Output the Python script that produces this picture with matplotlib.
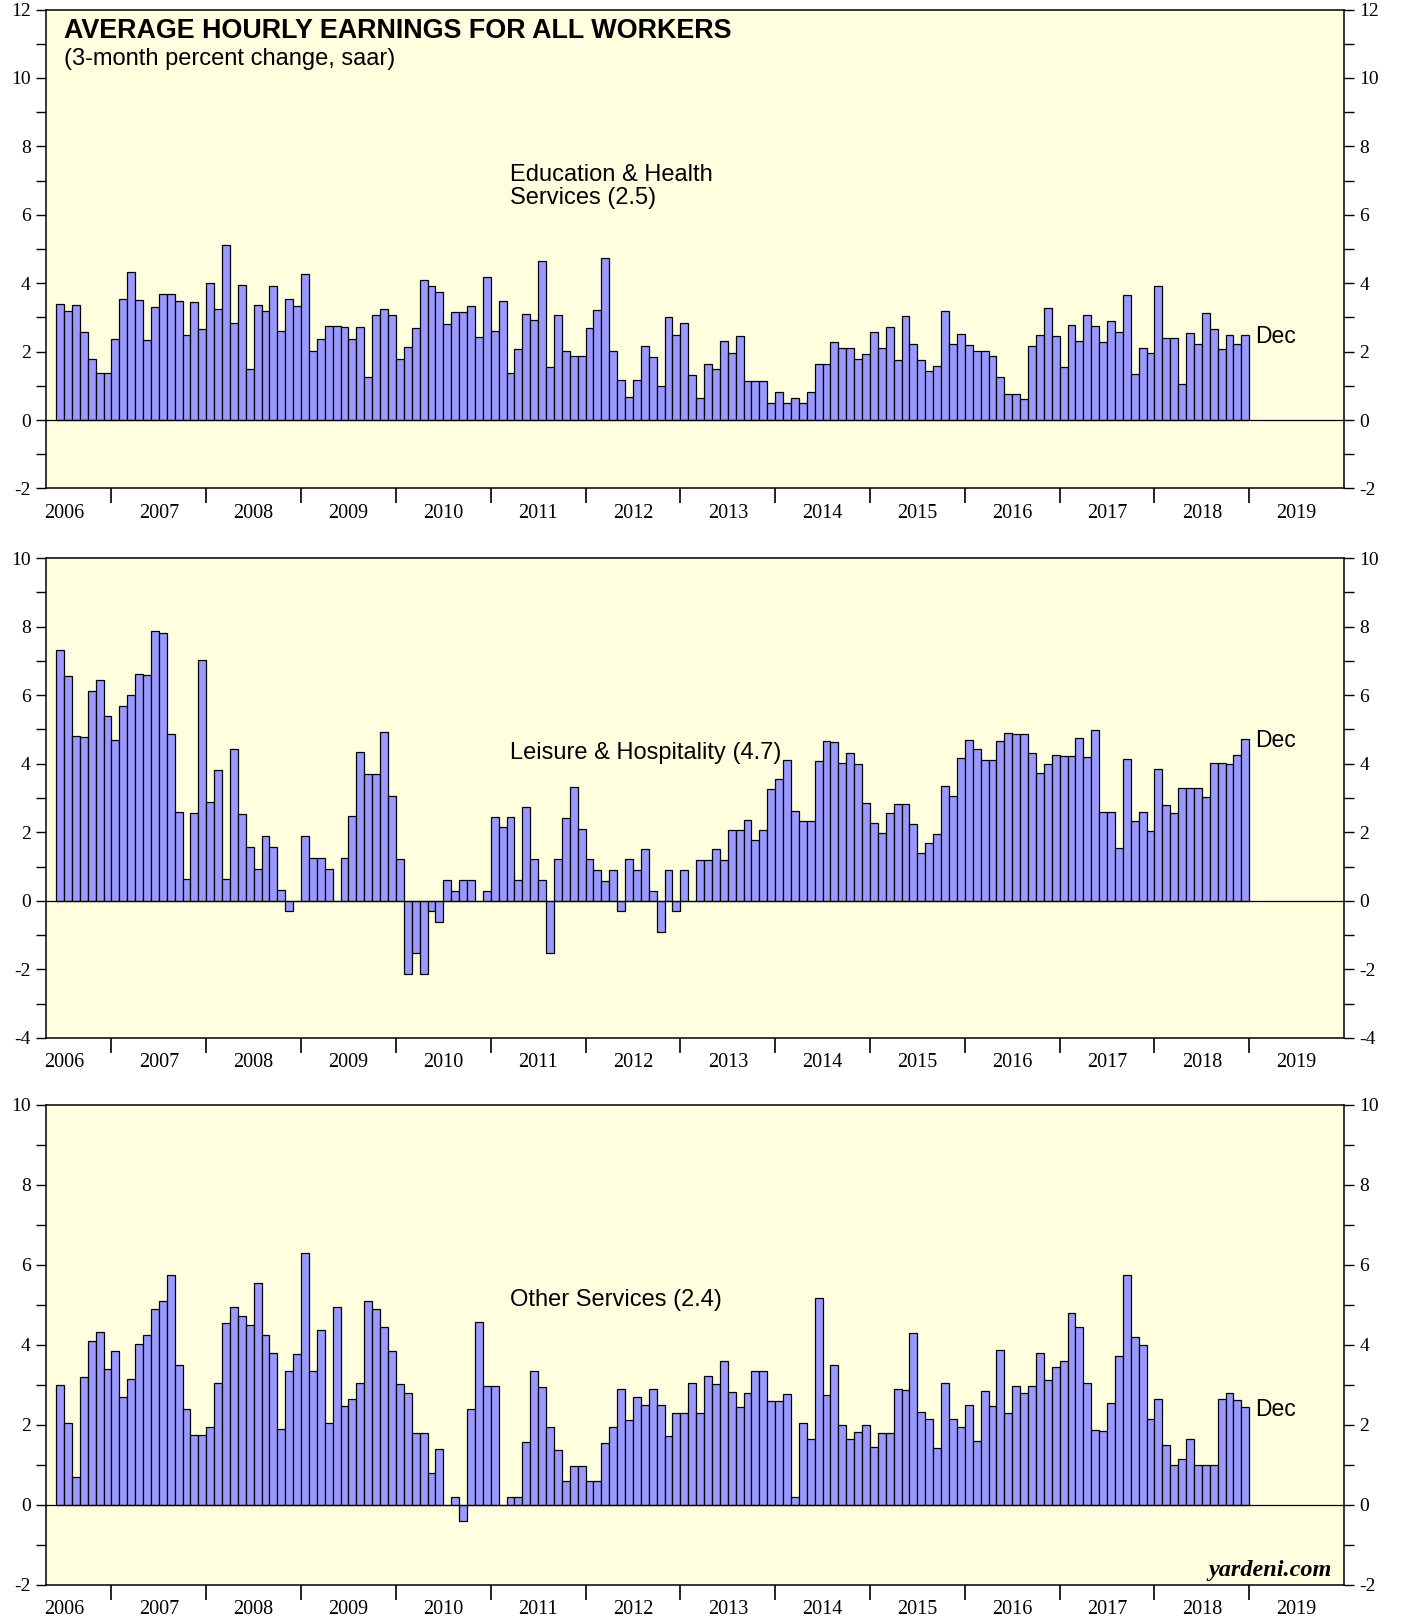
import numpy as np
import pandas as pd
import matplotlib
matplotlib.use("Agg")
import matplotlib.pyplot as plt

plt.rcParams["axes.unicode_minus"] = False

# monthly bars, Jun 2006 .. Dec 2018 (3-month % change, saar)
months = pd.date_range("2006-06-01", "2018-12-01", freq="MS")

edu_health = [
    3.40, 3.19, 3.37, 2.57, 1.77, 1.37, 1.37,                                # 2006 (Jun-Dec)
    2.36, 3.54, 4.32, 3.52, 2.33, 3.30, 3.68, 3.68, 3.47, 2.50, 3.46, 2.67,  # 2007
    4.02, 3.24, 5.13, 2.84, 3.96, 1.50, 3.37, 3.19, 3.91, 2.60, 3.53, 3.32,  # 2008
    4.26, 2.02, 2.38, 2.74, 2.74, 2.73, 2.36, 2.72, 1.27, 3.07, 3.25, 3.06,  # 2009
    1.78, 2.14, 2.68, 4.10, 3.91, 3.73, 2.82, 3.17, 3.17, 3.33, 2.44, 4.19,  # 2010
    2.60, 3.48, 1.37, 2.08, 3.10, 2.93, 4.65, 1.54, 3.07, 2.03, 1.86, 1.86,  # 2011
    2.70, 3.23, 4.73, 2.01, 1.17, 0.66, 1.16, 2.17, 1.83, 1.00, 3.00, 2.50,  # 2012
    2.83, 1.33, 0.65, 1.65, 1.48, 2.31, 1.97, 2.47, 1.14, 1.14, 1.14, 0.49,  # 2013
    0.81, 0.49, 0.65, 0.49, 0.81, 1.63, 1.63, 2.27, 2.11, 2.11, 1.77, 1.94,  # 2014
    2.58, 2.10, 2.73, 1.76, 3.04, 2.23, 1.75, 1.42, 1.59, 3.18, 2.21, 2.52,  # 2015
    2.19, 2.03, 2.03, 1.87, 1.25, 0.77, 0.77, 0.61, 2.17, 2.49, 3.27, 2.47,  # 2016
    1.55, 2.78, 2.31, 3.07, 2.76, 2.29, 2.90, 2.58, 3.65, 1.35, 2.11, 1.96,  # 2017
    3.93, 2.41, 2.39, 1.04, 2.54, 2.23, 3.14, 2.67, 2.08, 2.50, 2.21, 2.50,  # 2018
]

leisure = [
    7.31, 6.57, 4.80, 4.78, 6.13, 6.45, 5.40,
    4.69, 5.68, 6.00, 6.63, 6.59, 7.88, 7.82, 4.86, 2.58, 0.64, 2.57, 7.04,
    2.88, 3.81, 0.63, 4.44, 2.52, 1.57, 0.94, 1.88, 1.56, 0.31, -0.31, 0.00,
    1.88, 1.24, 1.24, 0.94, 0.00, 1.24, 2.48, 4.35, 3.71, 3.70, 4.92, 3.07,
    1.23, -2.13, -1.52, -2.13, -0.30, -0.61, 0.61, 0.30, 0.61, 0.61, 0.00, 0.30,
    2.44, 2.15, 2.44, 0.61, 2.73, 1.21, 0.60, -1.51, 1.21, 2.42, 3.33, 2.11,
    1.21, 0.90, 0.59, 0.90, -0.30, 1.21, 0.89, 1.51, 0.30, -0.90, 0.89, -0.30,
    0.89, 0.00, 1.20, 1.20, 1.50, 1.20, 2.07, 2.07, 2.37, 1.78, 2.07, 3.25,
    3.54, 4.11, 2.63, 2.33, 2.33, 4.07, 4.65, 4.63, 4.02, 4.30, 4.00, 2.85,
    2.27, 1.98, 2.56, 2.83, 2.82, 2.24, 1.40, 1.68, 1.96, 3.36, 3.07, 4.18,
    4.70, 4.42, 4.12, 4.10, 4.65, 4.91, 4.88, 4.86, 4.31, 3.74, 4.00, 4.26,
    4.24, 4.23, 4.74, 4.20, 4.97, 2.60, 2.60, 1.55, 4.14, 2.32, 2.59, 2.05,
    3.85, 2.81, 2.55, 3.29, 3.29, 3.28, 3.02, 4.03, 4.01, 4.00, 4.25, 4.73,
]

other = [
    2.98, 2.05, 0.68, 3.18, 4.10, 4.31, 3.38,
    3.83, 2.69, 3.13, 4.01, 4.23, 4.88, 5.08, 5.73, 3.50, 2.39, 1.73, 1.73,
    1.94, 3.03, 4.53, 4.95, 4.72, 4.48, 5.53, 4.24, 3.80, 1.88, 3.35, 3.77,
    6.28, 3.33, 4.36, 2.05, 4.95, 2.46, 2.65, 3.05, 5.09, 4.88, 4.45, 3.83,
    3.01, 2.80, 1.79, 1.79, 0.78, 1.38, 0.00, 0.19, -0.41, 2.38, 4.57, 2.97,
    2.96, 0.00, 0.19, 0.19, 1.57, 3.33, 2.93, 1.94, 1.36, 0.58, 0.97, 0.97,
    0.58, 0.58, 1.55, 1.93, 2.90, 2.12, 2.70, 2.50, 2.88, 2.50, 1.72, 2.28,
    2.28, 3.04, 2.28, 3.22, 3.02, 3.58, 2.82, 2.43, 2.80, 3.34, 3.34, 2.60,
    2.58, 2.77, 0.18, 2.03, 1.64, 5.16, 2.74, 3.48, 2.00, 1.63, 1.81, 1.99,
    1.44, 1.80, 1.80, 2.88, 2.86, 4.30, 2.32, 2.13, 1.42, 3.03, 2.13, 1.94,
    2.48, 1.58, 2.83, 2.47, 3.87, 2.28, 2.97, 2.78, 2.96, 3.80, 3.11, 3.45,
    3.60, 4.80, 4.44, 3.05, 1.86, 1.85, 2.53, 3.72, 5.73, 4.18, 4.00, 2.15,
    2.65, 1.49, 0.98, 1.15, 1.64, 0.98, 0.98, 0.98, 2.63, 2.78, 2.61, 2.45,
]

panel_labels = ["Education & Health\nServices (2.5)",
                "Leisure & Hospitality (4.7)",
                "Other Services (2.4)"]
years = list(range(2006, 2020))

SANS = "Liberation Sans"
SERIF = "Liberation Serif"
BG = "#ffffe0"
BAR = "#9999ff"

xpos = months.year + (months.month - 1) / 12.0

fig = plt.figure(figsize=(14.03, 16.19), dpi=100)
ax1 = fig.add_axes([0.0328, 0.6983, 0.9252, 0.2958])
ax2 = fig.add_axes([0.0328, 0.3589, 0.9252, 0.2964])
ax3 = fig.add_axes([0.0328, 0.0212, 0.9252, 0.2965])


def draw_panel(ax, vals, ylim, label, label_y):
    ax.set_facecolor(BG)
    ax.bar(xpos, vals, width=1 / 12, align="edge", color=BAR,
           edgecolor="black", linewidth=0.9, zorder=2)
    ax.axhline(0, color="black", lw=0.9, zorder=3)
    ax.set_xlim(2006.31, 2020.0)
    ax.set_ylim(*ylim)

    # year boundaries as long ticks, year names centred in between
    ax.set_xticks(years[1:])
    ax.set_xticklabels([])
    ax.set_xticks([y + 0.5 for y in years], minor=True)
    ax.set_xticklabels([str(y) for y in years], minor=True)
    ax.tick_params(axis="x", which="major", direction="out", length=11, width=1.2,
                   top=False)
    ax.tick_params(axis="x", which="minor", length=0, pad=11, labelsize=14.5)

    ax.set_yticks(np.arange(ylim[0], ylim[1] + 0.1, 2))
    ax.set_yticks(np.arange(ylim[0], ylim[1] + 0.1, 1), minor=True)
    ax.tick_params(axis="y", which="both", direction="out", length=7, width=1,
                   left=True, right=True, labelleft=True, labelright=True,
                   labelsize=14, pad=4)
    for t in ax.get_xticklabels(minor=True) + ax.get_yticklabels():
        t.set_family(SERIF)
    for s in ax.spines.values():
        s.set_linewidth(1.1)

    ax.text(2011.2, label_y, label, fontsize=17, family=SANS,
            va="center", ha="left", linespacing=1.05)
    ax.text(xpos[-1] + 1 / 12 + 0.06, vals[-1] - 0.06, "Dec", fontsize=16.5,
            family=SANS, va="center", ha="left")


draw_panel(ax1, edu_health, (-2, 12), panel_labels[0], 6.82)
draw_panel(ax2, leisure, (-4, 10), panel_labels[1], 4.32)
draw_panel(ax3, other, (-2, 10), panel_labels[2], 5.12)

ax1.text(2006.5, 11.37, "AVERAGE HOURLY EARNINGS FOR ALL WORKERS", fontsize=19.4,
         fontweight="bold", family=SANS, va="center", ha="left")
ax1.text(2006.5, 10.56, "(3-month percent change, saar)", fontsize=17,
         family=SANS, va="center", ha="left")
ax3.text(2019.87, -1.64, "yardeni.com", fontsize=17.5, family=SERIF,
         fontweight="bold", style="italic", va="center", ha="right")

fig.savefig("out.png", dpi=100, facecolor="white")
